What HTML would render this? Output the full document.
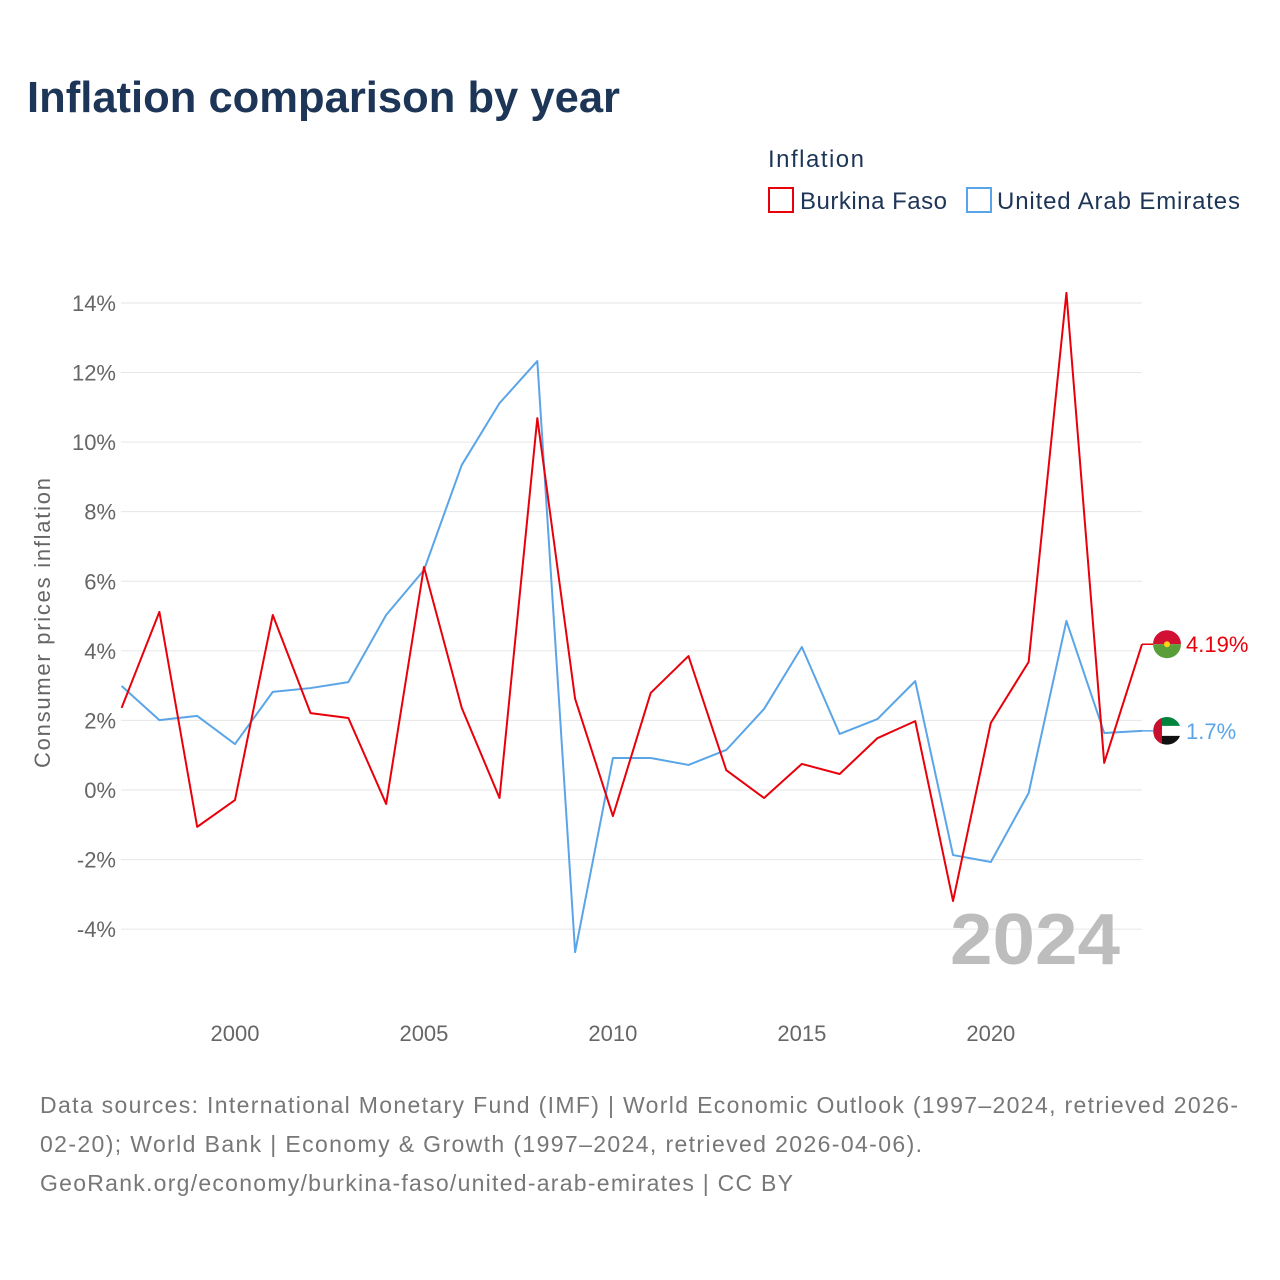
<!DOCTYPE html>
<html><head><meta charset="utf-8"><style>
body{margin:0;background:#fff;font-family:"Liberation Sans",sans-serif;}
#wrap{position:relative;width:1280px;height:1280px;overflow:hidden;}
</style></head><body>
<div id="wrap">
<svg id="svg" width="1280" height="1280" xmlns="http://www.w3.org/2000/svg">
<text x="27" y="112" font-size="44" font-weight="bold" fill="#1d3557" textLength="593" lengthAdjust="spacingAndGlyphs">Inflation comparison by year</text>
<text x="768" y="167" font-size="24" fill="#1d3557" textLength="96">Inflation</text>
<g>
<rect x="769" y="188" width="24" height="24" fill="none" stroke="#e8000b" stroke-width="2"/>
<text x="800" y="209" font-size="24" fill="#1d3557" textLength="147">Burkina Faso</text></g>
<g>
<rect x="967" y="188" width="24" height="24" fill="none" stroke="#5aa5e8" stroke-width="2"/>
<text x="997" y="209" font-size="24" fill="#1d3557" textLength="243">United Arab Emirates</text></g>
<text transform="translate(50,623) rotate(-90)" text-anchor="middle" font-size="22" fill="#666" textLength="290">Consumer prices inflation</text>
<g id="grid"></g><g id="yticks"></g><g id="xticks"></g>
<text x="1120" y="964" text-anchor="end" font-size="72" font-weight="bold" fill="#bdbdbd" textLength="170" lengthAdjust="spacingAndGlyphs">2024</text>
<g id="series"></g>
<g id="flags"></g>
<text x="40" y="1113" font-size="23" fill="#777" textLength="1198">Data sources: International Monetary Fund (IMF) | World Economic Outlook (1997–2024, retrieved 2026-</text>
<text x="40" y="1152" font-size="23" fill="#777" textLength="882">02-20); World Bank | Economy &amp; Growth (1997–2024, retrieved 2026-04-06).</text>
<text x="40" y="1191" font-size="23" fill="#777" textLength="753">GeoRank.org/economy/burkina-faso/united-arab-emirates | CC BY</text>
</svg></div>
<script>
const years=[1997,1998,1999,2000,2001,2002,2003,2004,2005,2006,2007,2008,2009,2010,2011,2012,2013,2014,2015,2016,2017,2018,2019,2020,2021,2022,2023,2024];
const burkina=[2.36,5.12,-1.06,-0.29,5.03,2.21,2.07,-0.40,6.41,2.36,-0.23,10.69,2.62,-0.75,2.79,3.85,0.57,-0.23,0.75,0.46,1.49,1.98,-3.19,1.93,3.68,14.29,0.78,4.19];
const uae=[2.99,2.01,2.13,1.32,2.82,2.93,3.10,5.03,6.32,9.34,11.12,12.33,-4.66,0.92,0.92,0.72,1.15,2.33,4.11,1.61,2.04,3.13,-1.87,-2.07,-0.09,4.86,1.64,1.70];
const yTicks=[-4,-2,0,2,4,6,8,10,12,14];
const xTicks=[2000,2005,2010,2015,2020];
const NS="http://www.w3.org/2000/svg";
const X=y=>121.6+(y-1997)*(1142-121.6)/27;
const Y=v=>790-v*34.79;
function mk(t,a,p){const e=document.createElementNS(NS,t);for(const k in a)e.setAttribute(k,a[k]);p.appendChild(e);return e;}
const grid=document.getElementById('grid'),yt=document.getElementById('yticks'),xt=document.getElementById('xticks');
yTicks.forEach(v=>{
 const l=mk('line',{x1:121,x2:1142,y1:Y(v),y2:Y(v),stroke:'#e6e6e6','stroke-width':1},grid);
 
 
 const t=mk('text',{x:116,y:Y(v)+8,'text-anchor':'end','font-size':22,fill:'#666'},yt);
 t.textContent=v+'%';
 
 
});
xTicks.forEach(v=>{
 const t=mk('text',{x:X(v),y:1041,'text-anchor':'middle','font-size':22,fill:'#666'},xt);
 t.textContent=v;
 
 
});
const sg=document.getElementById('series');
function line(d,c,n){
 const p=mk('polyline',{points:d.map((v,i)=>X(years[i])+','+Y(v)).join(' '),fill:'none',stroke:c,'stroke-width':2,'stroke-linejoin':'round'},sg);
 
 
}
line(uae,'#5aa5e8','uae-line');
line(burkina,'#e8000b','burkina-faso-line');
const fg=document.getElementById('flags');
function endLabel(v,c,n,fl){
 const y=Y(v),x=X(2024);
 mk('line',{x1:x,x2:1153,y1:y,y2:y,stroke:c,'stroke-width':1.5},fg);
 const g=mk('g',{},fg);
 
 
 fl(g,1167,y);
 const t=mk('text',{x:1186,y:y+8,'font-size':22,fill:c},fg);
 t.textContent=(Math.round(v*100)/100)+'%';
 
 
}
endLabel(burkina[27],'#e8000b','burkina-faso',(g,cx,cy)=>{
 mk('path',{d:`M${cx-14},${cy} A14,14 0 0 1 ${cx+14},${cy} Z`,fill:'#d21034'},g);
 mk('path',{d:`M${cx-14},${cy} A14,14 0 0 0 ${cx+14},${cy} Z`,fill:'#5a9e3a'},g);
 mk('circle',{cx:cx,cy:cy,r:3,fill:'#fcd116'},g);
});
endLabel(uae[27],'#5aa5e8','uae',(g,cx,cy)=>{
 mk('circle',{cx:cx,cy:cy,r:14,fill:'#fff'},g);
 mk('path',{d:`M${cx-13},${cy-5} A14,14 0 0 1 ${cx+13},${cy-5} Z`,fill:'#00843d'},g);
 mk('path',{d:`M${cx-13},${cy+5} A14,14 0 0 0 ${cx+13},${cy+5} Z`,fill:'#111'},g);
 mk('path',{d:`M${cx-5},${cy-13} A14,14 0 0 0 ${cx-5},${cy+13} Z`,fill:'#c8102e'},g);
});
</script>
</body></html>
